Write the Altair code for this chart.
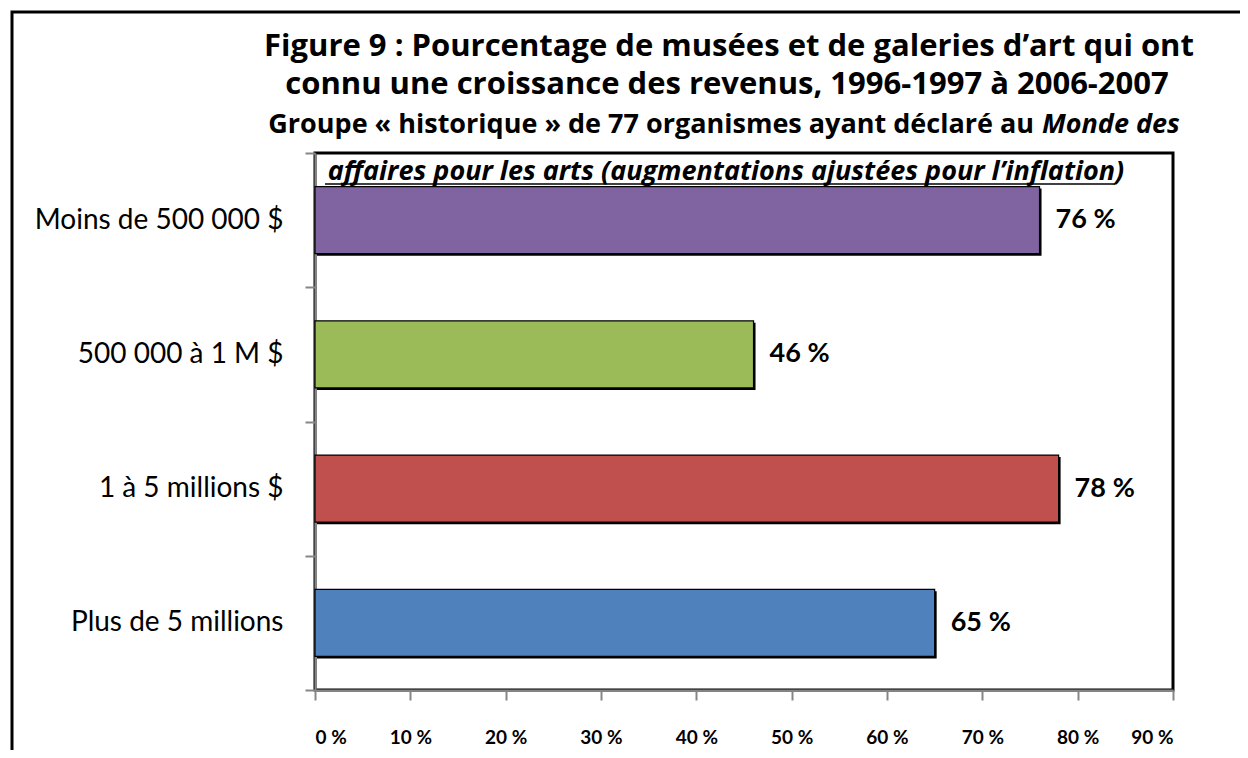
import altair as alt
import pandas as pd

# ---- data ----
categories = ["Moins de 500 000 $", "500 000 à 1 M $", "1 à 5 millions $", "Plus de 5 millions"]
values = [76, 46, 78, 65]
colors = ["#8064A2", "#9BBB59", "#C0504D", "#4F81BD"]
x_ticks = [0, 10, 20, 30, 40, 50, 60, 70, 80, 90]
title_line1 = "Figure 9 : Pourcentage de musées et de galeries d’art qui ont"
title_line2 = "connu une croissance des revenus, 1996-1997 à 2006-2007"
sub1_normal = "Groupe « historique » de 77 organismes ayant déclaré au"
sub1_italic = "Monde des"
sub2_text = "affaires pour les arts (augmentations ajustées pour l’inflation)"

df = pd.DataFrame({
    "cat": categories,
    "val": values,
    "label": [f"{v}\u202f%" for v in values],
})

W, H = 858, 537
FONT = "Lato"
TFONT = "Open Sans"
GRAY = "#868686"

base = alt.Chart(df)

y_enc = alt.Y(
    "cat:N", sort=categories,
    scale=alt.Scale(paddingInner=0, paddingOuter=0),
    axis=alt.Axis(title=None, domainColor=GRAY, domainWidth=2, tickColor=GRAY,
                  tickWidth=2, tickSize=10, tickBand="extent", labelFont=FONT,
                  labelFontSize=28, labelColor="black", labelPadding=22, labelLimit=400),
)
x_enc = alt.X(
    "val:Q",
    scale=alt.Scale(domain=[0, 90], nice=False),
    axis=alt.Axis(title=None, values=x_ticks, labelExpr="datum.value + '\u202f%'",
                  grid=False, domainColor=GRAY, domainWidth=2, tickColor=GRAY,
                  tickWidth=2, tickSize=10, labelFont=FONT, labelFontSize=19,
                  labelFontWeight="bold", labelColor="black", labelPadding=28,
                  labelBaseline="top"),
)

shadow = base.mark_bar(color="black", xOffset=2, yOffset=2,
                       height=alt.RelativeBandSize(0.5)).encode(
    x=x_enc, y=y_enc,
)
bars = base.mark_bar(stroke="black", strokeWidth=1.2,
                     height=alt.RelativeBandSize(0.5)).encode(
    x="val:Q", y=alt.Y("cat:N", sort=categories),
    color=alt.Color("cat:N", scale=alt.Scale(domain=categories, range=colors), legend=None),
)
labels = base.mark_text(align="left", baseline="middle", dx=16, font=FONT,
                        fontSize=27, fontWeight="bold", color="black").encode(
    x="val:Q", y=alt.Y("cat:N", sort=categories), text="label:N")


def txt(s, x, y, size, align="center", style="normal"):
    return alt.Chart(pd.DataFrame({"t": [s]})).mark_text(
        align=align, baseline="alphabetic", font=TFONT, fontSize=size,
        fontWeight="bold", fontStyle=style, color="black",
    ).encode(x=alt.value(x), y=alt.value(y), text="t:N")


frame = alt.Chart(pd.DataFrame({"a": [0]})).mark_rect(
    fill="white", fillOpacity=0, stroke="black", strokeWidth=3
).encode(x=alt.value(-303), x2=alt.value(990), y=alt.value(-141), y2=alt.value(700))

underline = alt.Chart(pd.DataFrame({"a": [0]})).mark_rule(
    color="black", strokeWidth=1.5
).encode(x=alt.value(10), x2=alt.value(800), y=alt.value(31))

chart = alt.layer(
    frame,
    shadow,
    bars,
    labels,
    txt(title_line1, 414, -97, 31),
    txt(title_line2, 412, -59, 31),
    txt(sub1_normal, 719, -20, 27, align="right"),
    txt(sub1_italic, 727, -20, 27, align="left", style="italic"),
    txt(sub2_text, 411, 27, 27, style="italic"),
    underline,
).properties(
    width=W, height=H,
    autosize="none",
    padding={"left": 307, "top": 145, "right": 67, "bottom": 60},
    background="white",
).configure_view(
    stroke="black", strokeWidth=3
)

chart.save("out.html", embed_options={"renderer": "svg", "actions": False})
